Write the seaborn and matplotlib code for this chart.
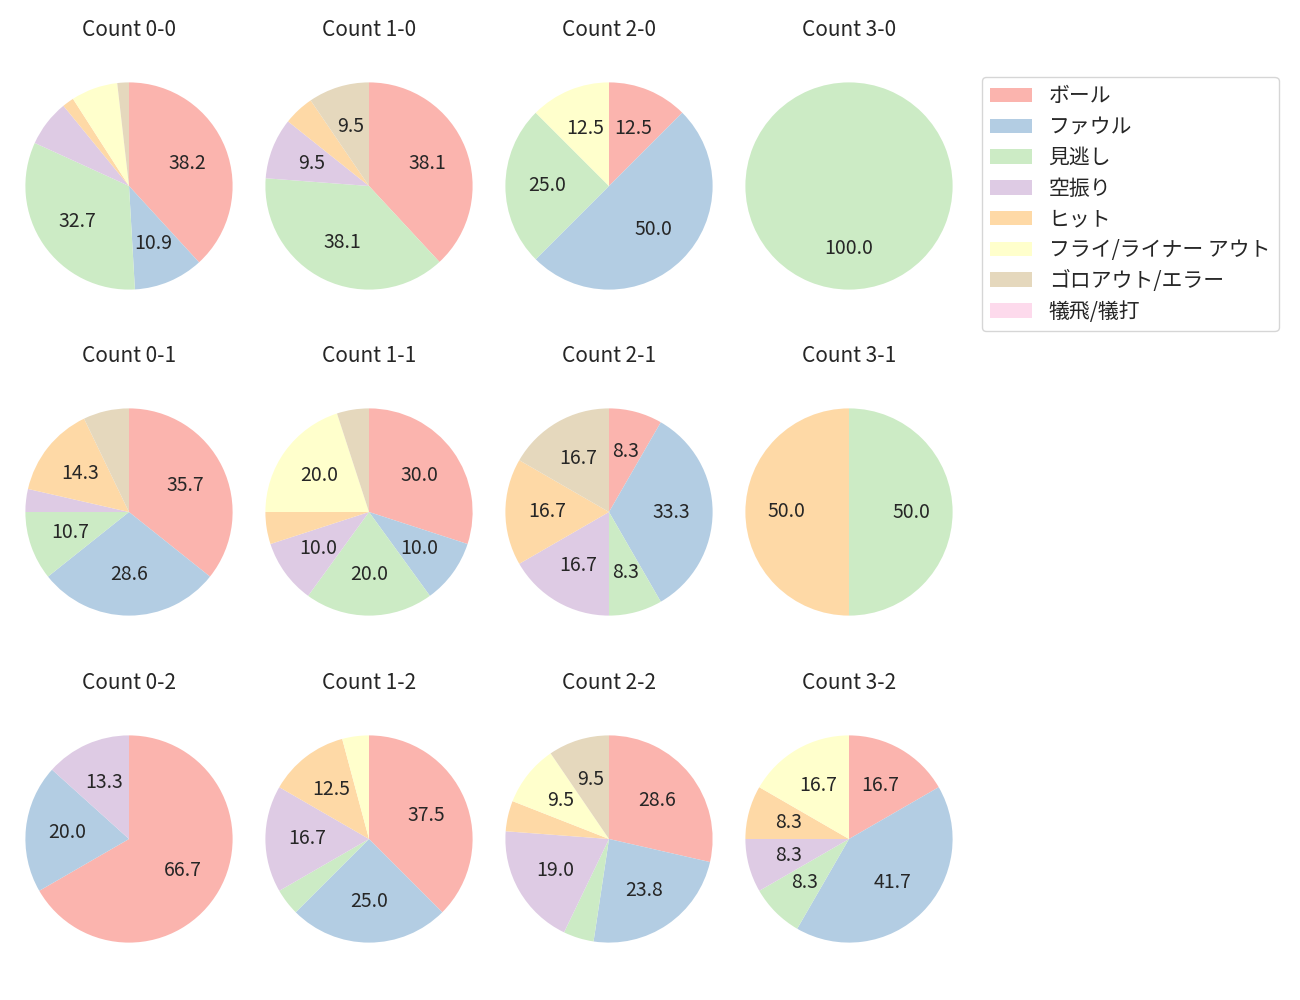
import matplotlib
matplotlib.use('Agg')
import matplotlib.pyplot as plt
import seaborn as sns

sns.set_theme(style='white')
plt.rcParams['font.family'] = ['Noto Sans CJK JP', 'DejaVu Sans']
plt.rcParams['font.size'] = 15

categories = ['ボール', 'ファウル', '見逃し', '空振り', 'ヒット',
              'フライ/ライナー アウト', 'ゴロアウト/エラー', '犠飛/犠打']

# 各カウントの投球結果（件数）
count_0_0 = [21, 6, 18, 4, 1, 4, 1, 0]
count_1_0 = [8, 0, 8, 2, 1, 0, 2, 0]
count_2_0 = [1, 4, 2, 0, 0, 1, 0, 0]
count_3_0 = [0, 0, 1, 0, 0, 0, 0, 0]
count_0_1 = [10, 8, 3, 1, 4, 0, 2, 0]
count_1_1 = [6, 2, 4, 2, 1, 4, 1, 0]
count_2_1 = [1, 4, 1, 2, 2, 0, 2, 0]
count_3_1 = [0, 0, 1, 0, 1, 0, 0, 0]
count_0_2 = [10, 3, 0, 2, 0, 0, 0, 0]
count_1_2 = [9, 6, 1, 4, 3, 1, 0, 0]
count_2_2 = [6, 5, 1, 4, 1, 2, 2, 0]
count_3_2 = [2, 5, 1, 1, 1, 2, 0, 0]

counts = [
    ['0-0', '1-0', '2-0', '3-0'],
    ['0-1', '1-1', '2-1', '3-1'],
    ['0-2', '1-2', '2-2', '3-2'],
]
data = {
    '0-0': count_0_0, '1-0': count_1_0, '2-0': count_2_0, '3-0': count_3_0,
    '0-1': count_0_1, '1-1': count_1_1, '2-1': count_2_1, '3-1': count_3_1,
    '0-2': count_0_2, '1-2': count_1_2, '2-2': count_2_2, '3-2': count_3_2,
}

colors = sns.color_palette('Pastel1', 8)

fig = plt.figure(figsize=(13, 10), dpi=100)
W, H = 1300, 1000
size = 259
col_x = [129, 369, 609, 849]
row_y = [186, 512, 839]

wedges_for_legend = None
for r, row in enumerate(counts):
    for c, key in enumerate(row):
        cx, cy = col_x[c], row_y[r]
        ax = fig.add_axes([(cx - size / 2) / W, 1 - (cy + size / 2) / H, size / W, size / H])
        wedges, texts, autotexts = ax.pie(
            data[key], colors=colors, startangle=90, counterclock=False,
            autopct=lambda p: f'{p:.1f}' if p >= 8 else '',
            pctdistance=0.6, wedgeprops={'linewidth': 0},
            textprops={'fontsize': 14})
        ax.set_title(f'Count {key}', fontsize=15, pad=15)
        if wedges_for_legend is None:
            wedges_for_legend = wedges

fig.legend(wedges_for_legend, categories, loc='upper left',
           bbox_to_anchor=(982 / W, 1 - 77 / H), borderaxespad=0, fontsize=15,
           labelspacing=0.42)

fig.savefig('out.png', dpi=100)
